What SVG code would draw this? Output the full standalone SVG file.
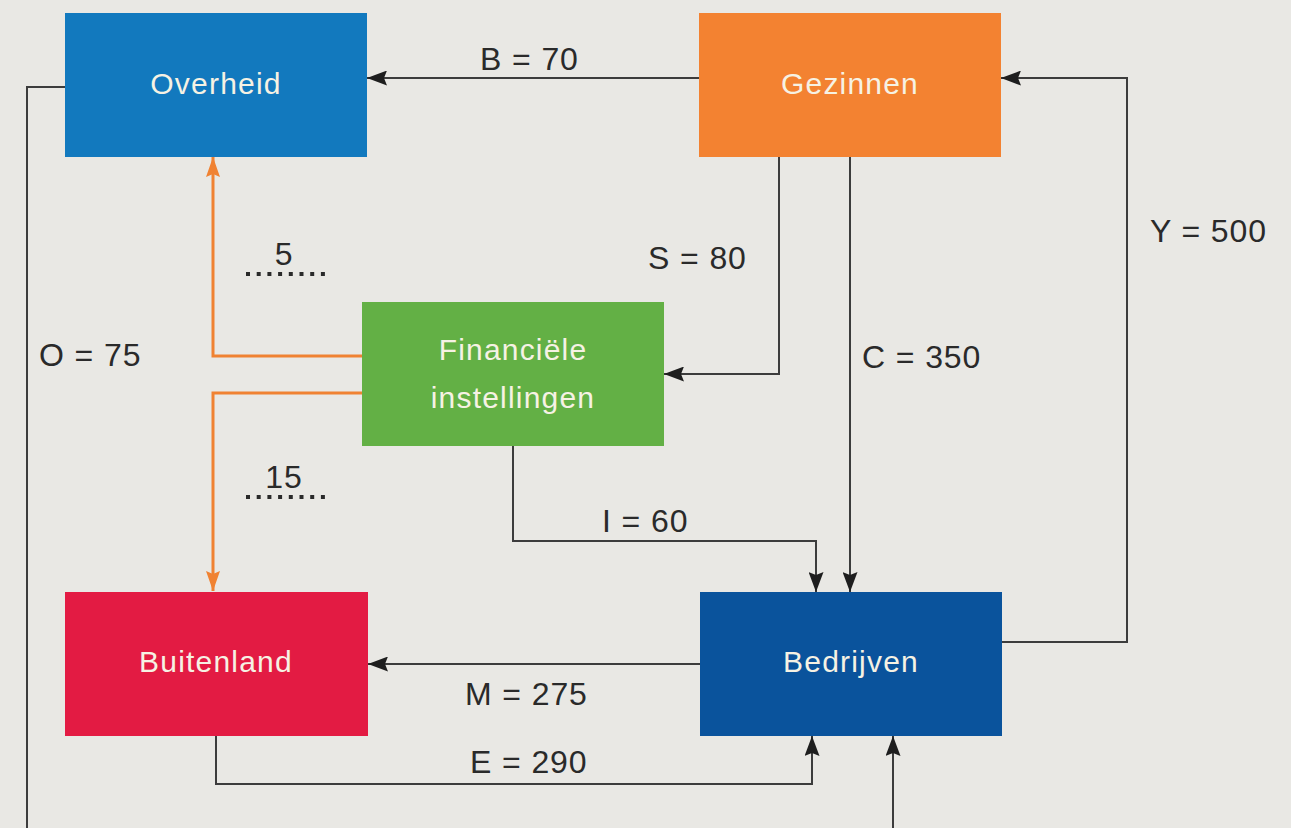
<svg xmlns="http://www.w3.org/2000/svg" width="1291" height="828" viewBox="0 0 1291 828">
<defs>
<marker id="ah" viewBox="0 0 20 15" refX="20" refY="7.5" markerWidth="20" markerHeight="15" markerUnits="userSpaceOnUse" orient="auto">
<path d="M0,0 L20,7.5 L0,15 L3,7.5 Z" fill="#1e1e1e"/>
</marker>
<marker id="ao" viewBox="0 0 20 14" refX="20" refY="7" markerWidth="20" markerHeight="14" markerUnits="userSpaceOnUse" orient="auto">
<path d="M0,0 L20,7 L0,14 L3,7 Z" fill="#f08232"/>
</marker>
<style>
.ln{fill:none;stroke:#3c3c3c;stroke-width:2}
.or{fill:none;stroke:#f08232;stroke-width:3}
.nt{font-family:"Liberation Sans",Arial,sans-serif;font-size:30px;fill:#f6f2e4;text-anchor:middle;letter-spacing:1.2px}
.lb{font-family:"Liberation Sans",Arial,sans-serif;font-size:32px;fill:#2a2a2a;letter-spacing:0.9px}
.dt{fill:none;stroke:#2a2a2a;stroke-width:4;stroke-dasharray:4 6.7}
</style>
</defs>
<rect width="1291" height="828" fill="#e9e8e4"/>
<g id="connectors">
<path class="ln" d="M699,78 H367" marker-end="url(#ah)"/>
<path class="ln" d="M65,87 H27 V828"/>
<path class="ln" d="M893,828 V736" marker-end="url(#ah)"/>
<path class="ln" d="M779,157 V374 H664" marker-end="url(#ah)"/>
<path class="ln" d="M850,157 V592" marker-end="url(#ah)"/>
<path class="ln" d="M1002,642 H1127 V78 H1001" marker-end="url(#ah)"/>
<path class="ln" d="M513,446 V541 H816 V592" marker-end="url(#ah)"/>
<path class="ln" d="M700,664 H368" marker-end="url(#ah)"/>
<path class="ln" d="M216,736 V784 H812 V736" marker-end="url(#ah)"/>
<path class="or" d="M362,356 H213 V157" marker-end="url(#ao)"/>
<path class="or" d="M362,393 H213 V591" marker-end="url(#ao)"/>
<text class="lb" x="480" y="70">B = 70</text>
<text class="lb" x="39" y="366">O = 75</text>
<text class="lb" x="648" y="269">S = 80</text>
<text class="lb" x="862" y="368">C = 350</text>
<text class="lb" x="1150" y="242">Y = 500</text>
<text class="lb" x="602" y="532">I = 60</text>
<text class="lb" x="465" y="705">M = 275</text>
<text class="lb" x="470" y="773">E = 290</text>
<text class="lb" x="284" y="265" text-anchor="middle">5</text>
<line class="dt" x1="246" y1="274" x2="325" y2="274"/>
<text class="lb" x="284" y="488" text-anchor="middle">15</text>
<line class="dt" x1="246" y1="497" x2="325" y2="497"/>
</g>
<g id="overheid">
<rect x="65" y="13" width="302" height="144" fill="#1279be"/>
<text class="nt" x="216" y="94">Overheid</text>
</g>
<g id="gezinnen">
<rect x="699" y="13" width="302" height="144" fill="#f38231"/>
<text class="nt" x="850" y="94">Gezinnen</text>
</g>
<g id="financiele">
<rect x="362" y="302" width="302" height="144" fill="#63b045"/>
<text class="nt" x="513" y="360">Financiële</text>
<text class="nt" x="513" y="408">instellingen</text>
</g>
<g id="buitenland">
<rect x="65" y="592" width="303" height="144" fill="#e31b43"/>
<text class="nt" x="216" y="672">Buitenland</text>
</g>
<g id="bedrijven">
<rect x="700" y="592" width="302" height="144" fill="#0a539c"/>
<text class="nt" x="851" y="672">Bedrijven</text>
</g>
</svg>
